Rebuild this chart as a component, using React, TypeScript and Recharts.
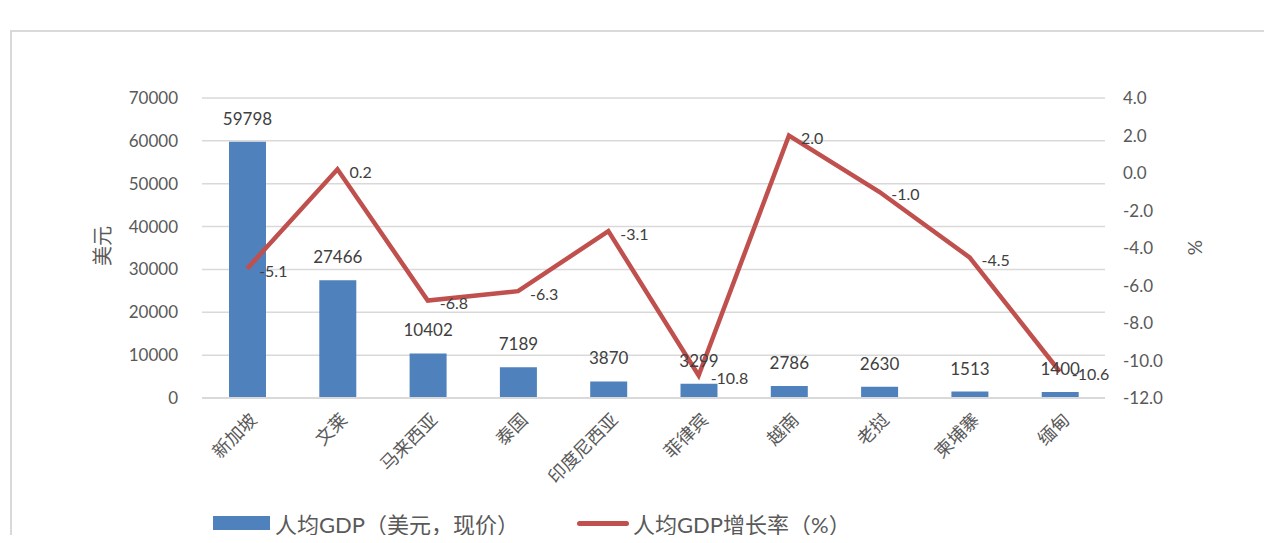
import { ComposedChart, Bar, Line, XAxis, YAxis, CartesianGrid, LabelList } from 'recharts';

const countries = ['新加坡', '文莱', '马来西亚', '泰国', '印度尼西亚', '菲律宾', '越南', '老挝', '柬埔寨', '缅甸'];
const gdpPerCapita = [59798, 27466, 10402, 7189, 3870, 3299, 2786, 2630, 1513, 1400];
const growthRate = [-5.1, 0.2, -6.8, -6.3, -3.1, -10.8, 2.0, -1.0, -4.5, -10.6];
const leftTicks = [0, 10000, 20000, 30000, 40000, 50000, 60000, 70000];
const rightTicks = [-12, -10, -8, -6, -4, -2, 0, 2, 4];

const data = countries.map((name, i) => ({ name, gdp: gdpPerCapita[i], growth: growthRate[i] }));

const FONT = 'Lato, "Noto Sans CJK SC", sans-serif';
const BLUE = '#4F81BD';
const RED = '#C0504D';

const XTick = ({ x, y, payload }: any) => {
  const ax = x + 6;
  const ay = y + 10;
  return (
    <text x={ax} y={ay} transform={`rotate(-45, ${ax}, ${ay})`} textAnchor="end" dominantBaseline="central"
      fontSize={18} fill="#595959" fontFamily={FONT}>
      {payload.value}
    </text>
  );
};

const LineLabel = ({ x, y, value }: any) => (
  <text x={x + 12} y={y + 2} dominantBaseline="central" fontSize={16} fill="#404040" fontFamily={FONT}>
    {Number(value).toFixed(1)}
  </text>
);

const App = () => {
  return (
    <div style={{ position: 'relative', width: 1272, height: 543, margin: -8, overflow: 'hidden', background: '#fff', fontFamily: FONT }}>
      <div style={{ position: 'absolute', left: 10, top: 30, width: 1400, height: 700, borderLeft: '2px solid #d9d9d9', borderTop: '2px solid #d9d9d9' }} />
      <div style={{ position: 'absolute', left: 0, top: 0 }}>
        <ComposedChart width={1272} height={543} data={data} margin={{ top: 98, right: 0, bottom: 0, left: 0 }}>
          <CartesianGrid yAxisId="left" vertical={false} stroke="#d9d9d9" strokeWidth={1.5} />
          <XAxis dataKey="name" height={145} tick={<XTick />} tickLine={false} axisLine={{ stroke: '#d9d9d9', strokeWidth: 2 }} interval={0} />
          <YAxis yAxisId="left" width={202} domain={[0, 70000]} ticks={leftTicks} tickLine={false} axisLine={false}
            tickMargin={18} tick={{ fontSize: 17, fill: '#595959', fontFamily: FONT }}
            label={{ value: '美元', angle: -90, position: 'insideLeft', dx: 98, dy: 18, fontSize: 20, fill: '#595959', fontFamily: FONT }} />
          <YAxis yAxisId="right" orientation="right" width={167} domain={[-12, 4]} ticks={rightTicks} tickLine={false} axisLine={false}
            tickMargin={12} tickFormatter={(v: number) => v.toFixed(1)} tick={{ fontSize: 17, fill: '#595959', fontFamily: FONT }}
            label={{ value: '%', angle: 90, position: 'insideLeft', dx: 85, dy: -8, fontSize: 19, fill: '#595959', fontFamily: FONT }} />
          <Bar yAxisId="left" dataKey="gdp" fill={BLUE} barSize={37} isAnimationActive={false}>
            <LabelList dataKey="gdp" position="top" offset={17} fontSize={17} fill="#404040" fontFamily={FONT} />
          </Bar>
          <Line yAxisId="right" dataKey="growth" stroke={RED} strokeWidth={4.5} dot={false} type="linear" isAnimationActive={false}>
            <LabelList dataKey="growth" content={<LineLabel />} />
          </Line>
        </ComposedChart>
      </div>
      <div style={{ position: 'absolute', top: 507, left: 213, display: 'flex', alignItems: 'center', fontSize: 22, color: '#595959', fontFamily: FONT }}>
        <span style={{ display: 'inline-block', width: 57, height: 14, background: BLUE, marginRight: 5 }} />
        <span>人均GDP（美元，现价）</span>
        <span style={{ display: 'inline-block', width: 52, height: 5, borderRadius: 3, background: RED, marginLeft: 58, marginRight: 4 }} />
        <span>人均GDP增长率（%）</span>
      </div>
    </div>
  );
};

export default App;
